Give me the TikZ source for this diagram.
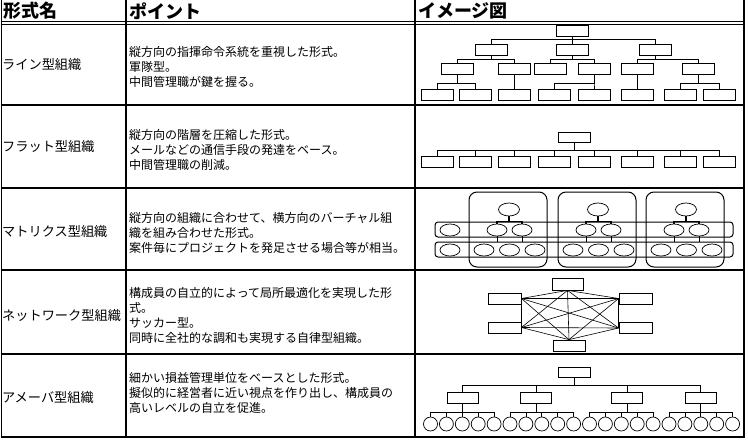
\documentclass[tikz,border=0pt]{standalone}
\usepackage{fontspec}
\setmainfont{Noto Sans CJK JP}
\usetikzlibrary{shapes.geometric}
\begin{document}
\begin{tikzpicture}[x=1pt,y=-1pt,
  ob/.style={draw,rectangle,minimum width=32pt,minimum height=11pt,inner sep=0pt,line width=0.8pt},
  el/.style={draw,ellipse,minimum width=20pt,minimum height=12pt,inner sep=0pt,line width=0.7pt},
  elt/.style={el,minimum width=21pt,minimum height=13pt},
  ci/.style={draw,circle,minimum size=14pt,inner sep=0pt,line width=0.7pt},
  con/.style={line width=0.8pt},
  nw/.style={line width=0.6pt},
  grid/.style={line width=1.6pt},
  nm/.style={anchor=west,inner sep=0pt,font=\fontsize{13.2}{15}\selectfont},
  tx/.style={anchor=west,inner sep=0pt,align=left,font=\fontsize{12}{15}\selectfont},
  hd/.style={anchor=west,inner sep=0pt,font=\fontsize{18}{20}\selectfont\bfseries}]
\useasboundingbox (0,0) rectangle (748,440);
% ---------- table ----------
\draw[grid] (1.5,0) -- (1.5,437.8);
\draw[line width=1.3pt] (126,0) -- (126,437);
\draw[line width=1.3pt] (415,0) -- (415,437);
\draw[grid] (744,0) -- (744,437.8);
\draw[line width=1.6pt] (0.7,21.5) -- (744.8,21.5);
\draw[line width=1pt] (0.7,24.2) -- (744.8,24.2);
\foreach \yy in {105,188,270,354,437}
  \draw[grid] (0.7,\yy) -- (744.8,\yy);
% ---------- headers ----------
\node[hd] (h1) at (3,11) {形式名};
\node[hd] (h2) at (129,11) {ポイント};
\node[hd] (h3) at (418,11) {イメージ図};
% ---------- names ----------
\node[nm] (n1) at (2,65) {ライン型組織};
\node[nm] (n2) at (2,147) {フラット型組織};
\node[nm] (n3) at (2,231.5) {マトリクス型組織};
\node[nm] (n4) at (2,315.5) {ネットワーク型組織};
\node[nm] (n5) at (2,398) {アメーバ型組織};
% ---------- points ----------
\node[tx] (t1) at (129,67) {縦方向の指揮命令系統を重視した形式。\\軍隊型。\\中間管理職が鍵を握る。};
\node[tx] (t2) at (129,150) {縦方向の階層を圧縮した形式。\\メールなどの通信手段の発達をベース。\\中間管理職の削減。};
\node[tx] (t3) at (129,233) {縦方向の組織に合わせて、横方向のバーチャル組\\織を組み合わせた形式。\\案件毎にプロジェクトを発足させる場合等が相当。};
\node[tx] (t4) at (129,315.5) {構成員の自立的によって局所最適化を実現した形\\式。\\サッカー型。\\同時に全社的な調和も実現する自律型組織。};
\node[tx] (t5) at (129,393) {細かい損益管理単位をベースとした形式。\\擬似的に経営者に近い視点を作り出し、構成員の\\高いレベルの自立を促進。};
% ---------- line organisation ----------
\node[ob] (L0) at (572.5,30.5) {};
\node[ob] (L2a) at (491.5,49.5) {};
\node[ob] (L2b) at (572.5,49.5) {};
\node[ob] (L2c) at (655,49.5) {};
\node[ob] (L3a) at (457,68.5) {};
\node[ob] (L3b) at (514,68.5) {};
\node[ob] (L3c) at (550,68.5) {};
\node[ob] (L3d) at (594,68.5) {};
\node[ob] (L3e) at (637,68.5) {};
\node[ob] (L3f) at (698,68.5) {};
\node[ob] (L4a) at (437,95) {};
\node[ob] (L4b) at (475,95) {};
\node[ob] (L4c) at (514,95) {};
\node[ob] (L4d) at (554,95) {};
\node[ob] (L4e) at (594,95) {};
\node[ob] (L4f) at (637,95) {};
\node[ob] (L4g) at (680,95) {};
\node[ob] (L4h) at (719,95) {};
\foreach \c in {L2a,L2b,L2c} \draw[con] (L0.south) -- ++(0,3.3) -| (\c.north);
\foreach \c in {L3a,L3b} \draw[con] (L2a.south) -- ++(0,4.3) -| (\c.north);
\foreach \c in {L3c,L3d} \draw[con] (L2b.south) -- ++(0,4.3) -| (\c.north);
\foreach \c in {L3e,L3f} \draw[con] (L2c.south) -- ++(0,4.3) -| (\c.north);
\foreach \c in {L4a,L4b} \draw[con] (L3a.south) -- ++(0,8.7) -| (\c.north);
\draw[con] (L3b.south) -- (L4c.north);
\foreach \c in {L4d,L4e} \draw[con] (L3d.south) -- ++(0,8.7) -| (\c.north);
\draw[con] (L3e.south) -- (L4f.north);
\foreach \c in {L4g,L4h} \draw[con] (L3f.south) -- ++(0,8.7) -| (\c.north);
% ---------- flat organisation ----------
\node[ob,minimum height=10pt] (F0) at (574,137) {};
\foreach \xx [count=\i] in {437,475,514,554,594,637,680,719} {
  \node[ob] (F\i) at (\xx,161.5) {};
  \draw[con] (F0.south) -- ++(0,7.5) -| (F\i.north);
}
% ---------- matrix organisation ----------
\draw[line width=1pt,rounded corners=3pt] (435,222) rectangle (733,237);
\draw[line width=1pt,rounded corners=3pt] (435,242) rectangle (733,257);
\node[el] (mL1) at (450,230) {};
\node[el] (mL2) at (450,250) {};
\foreach \dx [count=\k] in {0,89,177} {
  \draw[line width=1pt,rounded corners=8pt] (469+\dx,192) rectangle (547+\dx,267);
  \node[elt] (mT\k) at (509+\dx,209.5) {};
  \node[el] (mA\k) at (497+\dx,230) {};
  \node[el] (mB\k) at (522+\dx,230) {};
  \node[el] (mC\k) at (484+\dx,250) {};
  \node[el] (mD\k) at (509.5+\dx,250) {};
  \node[el] (mE\k) at (535+\dx,250) {};
  \draw[line width=1.2pt] (mT\k.south) -- ++(0,5) -| (mA\k.north);
  \draw[line width=1.2pt] (mT\k.south) -- ++(0,5) -| (mB\k.north);
  \coordinate (ta\k) at ([yshift=-6pt]mA\k.south);
  \coordinate (tb\k) at ([yshift=-6pt]mB\k.south);
  \draw[con] (mA\k.south) -- (ta\k);
  \draw[con] (mB\k.south) -- (tb\k);
}
% ---------- network organisation ----------
\node[ob,minimum width=31pt,minimum height=12pt] (NT) at (567.5,284) {};
\node[ob,minimum width=33pt] (LU) at (504.5,298.5) {};
\node[ob,minimum width=33pt] (LL) at (504.5,327.5) {};
\node[ob,minimum width=33pt] (RU) at (635.5,298.5) {};
\node[ob,minimum width=33pt] (RL) at (635.5,328) {};
\node[ob,minimum width=32pt,minimum height=11pt] (NB) at (569,345.5) {};
\coordinate (p1) at (NT.south);
\coordinate (p2) at (RU.west);
\coordinate (p3) at (RL.west);
\coordinate (p4) at (NB.north);
\coordinate (p5) at (LL.east);
\coordinate (p6) at (LU.east);
\foreach \a/\b in {1/2,1/3,1/4,1/5,1/6,2/3,2/4,2/5,2/6,3/4,3/5,3/6,4/5,4/6,5/6}
  \draw[nw] (p\a) -- (p\b);
% ---------- amoeba organisation ----------
\node[ob,minimum height=10pt] (A0) at (574,372) {};
\foreach \xx [count=\i] in {462.5,536,627,700.5} {
  \node[ob,minimum width=31pt] (A\i) at (\xx,397.5) {};
  \draw[con] (A0.south) -- ++(0,8) -| (A\i.north);
}
\foreach \k in {0,...,19} {
  \pgfmathtruncatemacro{\g}{int(\k/5)+1}
  \node[ci] (c\k) at (430.5+15.9*\k,424) {};
  \draw[con] (A\g.south) -- ++(0,9) -| (c\k.north);
}
\end{tikzpicture}
\end{document}
